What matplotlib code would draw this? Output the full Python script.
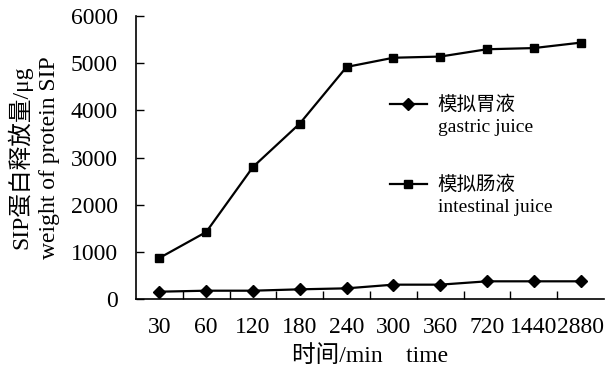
import matplotlib
matplotlib.use("Agg")
import matplotlib.pyplot as plt
from matplotlib.lines import Line2D

plt.rcParams["font.family"] = ["Liberation Serif", "Noto Sans CJK SC"]

times = ["30", "60", "120", "180", "240", "300", "360", "720", "1440", "2880"]
gastric = [155, 176, 176, 205, 226, 304, 304, 375, 375, 375]
intestinal = [870, 1420, 2800, 3720, 4920, 5115, 5140, 5295, 5320, 5435]

W, H = 606, 374
fig = plt.figure(figsize=(W / 100, H / 100), dpi=100)
ax = fig.add_axes([136 / W, 1 - 299 / H, 468 / W, 283 / H])

xs = list(range(len(times)))
ax.plot(xs, gastric, color="black", lw=1.6, marker="D", ms=6)
ax.plot(xs, intestinal, color="black", lw=1.6, marker="s", ms=6)

ax.set_xlim(-0.5, len(times) - 0.5)
ax.set_ylim(0, 6000)
ax.set_yticks(range(0, 6001, 1000))
ax.set_xticks(xs)
ax.set_xticklabels(times)
ax.set_xticks([x + 0.5 for x in xs[:-1]], minor=True)
ax.tick_params(axis="x", which="major", length=0, pad=13, labelsize=17)
ax.tick_params(axis="x", which="minor", direction="in", length=6, width=1)
ax.tick_params(axis="y", direction="in", length=6, width=1, pad=13, labelsize=17)

for s in ["top", "right"]:
    ax.spines[s].set_visible(False)
for s in ["left", "bottom"]:
    ax.spines[s].set_linewidth(1.2)

ax.set_xlabel("时间/min    time", fontsize=17, labelpad=5)
ax.set_ylabel("SIP蛋白释放量/μg\nweight of protein SIP", fontsize=17,
              labelpad=8, linespacing=1.4)

blank = Line2D([], [], alpha=0)
hg = Line2D([], [], color="black", lw=1.6, marker="D", ms=6)
hi = Line2D([], [], color="black", lw=1.6, marker="s", ms=6)
common = dict(loc="upper left", frameon=False, fontsize=14, borderpad=0,
              borderaxespad=0, handlelength=1.9, labelspacing=0.22,
              handletextpad=0.55, bbox_transform=fig.transFigure)
leg1 = ax.legend([hg, blank], ["模拟胃液", "gastric juice"],
                 bbox_to_anchor=(390 / W, 1 - 96 / H), **common)
ax.add_artist(leg1)
ax.legend([hi, blank], ["模拟肠液", "intestinal juice"],
          bbox_to_anchor=(390 / W, 1 - 176 / H), **common)

fig.savefig("out.png", dpi=100)
